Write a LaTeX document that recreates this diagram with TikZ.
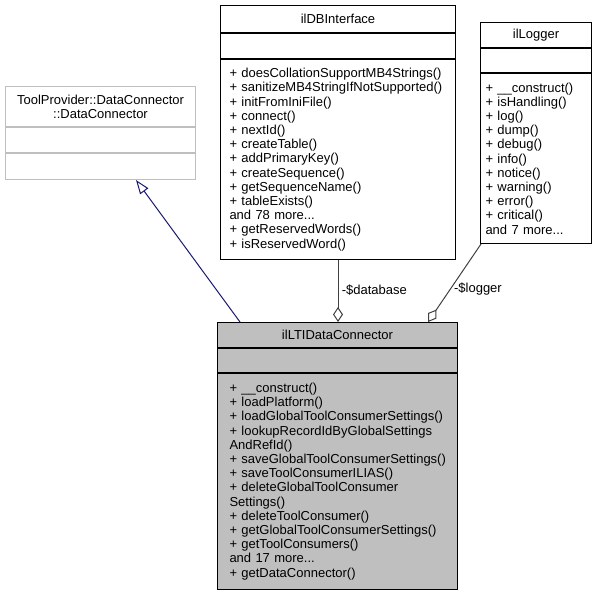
\documentclass[tikz,border=0pt]{standalone}
\usepackage{fontspec}
\setmainfont{Liberation Sans}
\usetikzlibrary{arrows.meta,positioning}
\definecolor{edgegrey}{HTML}{404040}
\definecolor{boxgrey}{HTML}{BFBFBF}
\definecolor{inhblue}{HTML}{191970}
\hyphenpenalty=10000
\exhyphenpenalty=10000

\begin{document}
\begin{tikzpicture}[x=1pt, y=-1pt,
        box/.style={rectangle, draw, line width=1pt, inner sep=0pt, inner xsep=9pt, anchor=north west, font=\fontsize{13}{14.2}\selectfont},
        head/.style={box, align=center, minimum height=25pt},
        attrs/.style={box, minimum height=25pt},
        ops/.style={box, align=left},
        inherit/.style={-{Triangle[open, length=14pt, width=10pt]}, line width=1pt, draw=inhblue},
        assoc/.style={-{Diamond[open, length=15pt, width=10pt]}, line width=1pt, draw=edgegrey}
    ]
        \useasboundingbox (0,0) rectangle (596,595);

        % base class
        \node[head, draw=boxgrey, text width=172pt, minimum height=40pt] (tphead) at (5,86) {ToolProvider::DataConnector\\::DataConnector};
        \node[attrs, draw=boxgrey, text width=172pt] (tpattr) at (tphead.south west) {};
        \node[attrs, draw=boxgrey, text width=172pt, minimum height=26pt] (tpops) at (tpattr.south west) {};

        % ilDBInterface
        \node[head, text width=217pt, minimum height=27pt] (dbhead) at (220,5) {ilDBInterface};
        \node[attrs, text width=217pt] (dbattr) at (dbhead.south west) {};
        \node[ops, text width=217pt, minimum height=200pt] (dbops) at (dbattr.south west) {%
            +~doesCollationSupportMB4Strings()\\
            +~sanitizeMB4StringIfNotSupported()\\
            +~initFromIniFile()\\
            +~connect()\\
            +~nextId()\\
            +~createTable()\\
            +~addPrimaryKey()\\
            +~createSequence()\\
            +~getSequenceName()\\
            +~tableExists()\\
            and 78 more...\\
            +~getReservedWords()\\
            +~isReservedWord()};

        % ilLogger
        \node[head, text width=93pt] (loghead) at (480,22) {ilLogger};
        \node[attrs, text width=93pt, minimum height=24pt] (logattr) at (loghead.south west) {};
        \node[ops, inner xsep=5pt, text width=101pt, minimum height=170pt] (logops) at (logattr.south west) {%
            +~\_\_construct()\\
            +~isHandling()\\
            +~log()\\
            +~dump()\\
            +~debug()\\
            +~info()\\
            +~notice()\\
            +~warning()\\
            +~error()\\
            +~critical()\\
            and 7 more...};

        % ilLTIDataConnector
        \node[head, fill=boxgrey, text width=222pt] (ltihead) at (217,322) {ilLTIDataConnector};
        \node[attrs, fill=boxgrey, text width=222pt, minimum height=24pt] (ltiattr) at (ltihead.south west) {};
        \node[ops, fill=boxgrey, inner xsep=12pt, text width=216pt, minimum height=216pt] (ltiops) at (ltiattr.south west) {%
            +~\_\_construct()\\
            +~loadPlatform()\\
            +~loadGlobalToolConsumerSettings()\\
            +~lookupRecordIdByGlobalSettings\\
            AndRefId()\\
            +~saveGlobalToolConsumerSettings()\\
            +~saveToolConsumerILIAS()\\
            +~deleteGlobalToolConsumer\\
            Settings()\\
            +~deleteToolConsumer()\\
            +~getGlobalToolConsumerSettings()\\
            +~getToolConsumers()\\
            and 17 more...\\
            +~getDataConnector()};

        % relations
        \draw[inherit] ([xshift=23pt]ltihead.north west) -- ([xshift=131pt]tpops.south west);
        \draw[assoc] (dbops.south) -- (dbops.south |- ltihead.north)
            node[pos=0.48, right, font=\fontsize{13}{14.2}\selectfont] {-\$database};
        \draw[assoc] ([xshift=1pt]logops.south west) -- ([xshift=211pt]ltihead.north west)
            node[pos=0.58, right, font=\fontsize{13}{14.2}\selectfont] {-\$logger};
    \end{tikzpicture}
\end{document}
